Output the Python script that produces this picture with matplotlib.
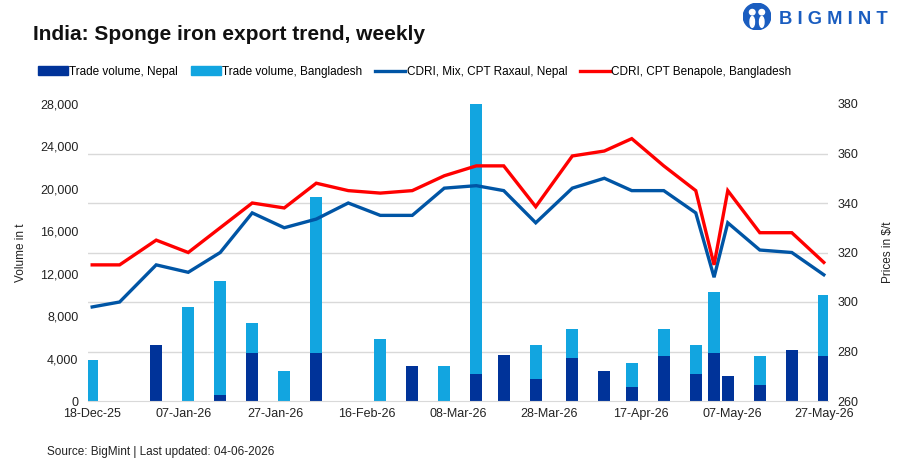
import matplotlib
matplotlib.use("Agg")
import matplotlib.pyplot as plt
import matplotlib.dates as mdates
from matplotlib.patches import Patch, Ellipse
from matplotlib.lines import Line2D
from matplotlib.ticker import StrMethodFormatter
import pandas as pd

# weekly observations
dates = pd.to_datetime([
    "2025-12-18", "2025-12-24", "2026-01-01", "2026-01-08", "2026-01-15",
    "2026-01-22", "2026-01-29", "2026-02-05", "2026-02-12", "2026-02-19",
    "2026-02-26", "2026-03-05", "2026-03-12", "2026-03-18", "2026-03-25",
    "2026-04-02", "2026-04-09", "2026-04-15", "2026-04-22", "2026-04-29",
    "2026-05-03", "2026-05-06", "2026-05-13", "2026-05-20", "2026-05-27",
])
nepal_vol = [0, 0, 5250, 0, 550, 4540, 0, 4540, 0, 0,
             3290, 0, 2540, 4320, 2070, 4040, 2820, 1320, 4230, 2540,
             4540, 2350, 1500, 4790, 4230]
bangladesh_vol = [3850, 0, 0, 8850, 10730, 2790, 2820, 14730, 0, 5830,
                  0, 3290, 25460, 0, 3190, 2730, 0, 2250, 2540, 2720,
                  5700, 0, 2730, 0, 5730]
raxaul_price = [298, 300, 315, 312, 320, 336, 330, 333.5, 340, 335,
                335, 346, 347, 345, 332, 346, 350, 345, 345, 336,
                310, 332, 321, 320, 311]
benapole_price = [315, 315, 325, 320, 330, 340, 338, 348, 345, 344,
                  345, 351, 355, 355, 338.5, 359, 361, 366, 355, 345,
                  315, 345, 328, 328, 316]
tick_dates = pd.to_datetime([
    "2025-12-18", "2026-01-07", "2026-01-27", "2026-02-16", "2026-03-08",
    "2026-03-28", "2026-04-17", "2026-05-07", "2026-05-27",
])

C_NEPAL = "#003399"
C_BANG = "#12A5E0"
C_RAX = "#0055A5"
C_BEN = "#FF0000"
GRID = "#D9D9D9"
C_LOGO = "#1A5DC0"

plt.rcParams["font.family"] = ["Liberation Sans", "DejaVu Sans"]

fig = plt.figure(figsize=(9.14, 4.70), dpi=100)
ax = fig.add_axes([88 / 914, 69 / 470, 740 / 914, 297 / 470])
ax2 = ax.twinx()

bar_w = 2.6
ax.bar(dates, nepal_vol, width=bar_w, color=C_NEPAL, zorder=2)
ax.bar(dates, bangladesh_vol, width=bar_w, bottom=nepal_vol, color=C_BANG, zorder=2)

ax2.plot(dates, raxaul_price, color=C_RAX, lw=2.4, solid_joinstyle="miter")
ax2.plot(dates, benapole_price, color=C_BEN, lw=2.4, solid_joinstyle="miter")

ax.set_ylim(0, 28000)
ax.set_yticks(range(0, 28001, 4000))
ax.yaxis.set_major_formatter(StrMethodFormatter("{x:,.0f}"))
ax2.set_ylim(260, 380)
ax2.set_yticks(range(260, 381, 20))

# gridlines follow the price axis, drawn behind bars
ax.set_yticks([28000 * k / 6 for k in range(7)], minor=True)
ax.grid(which="minor", axis="y", color=GRID, lw=1, zorder=0)
ax.set_axisbelow(True)

ax.set_xlim(dates[0] - pd.Timedelta(hours=22), dates[-1] + pd.Timedelta(hours=22))
ax.set_xticks(tick_dates)
ax.xaxis.set_major_formatter(mdates.DateFormatter("%d-%b-%y"))

for a in (ax, ax2):
    for s in a.spines.values():
        s.set_visible(False)
ax.spines["bottom"].set_visible(True)
ax.spines["bottom"].set_color(GRID)

ax.tick_params(axis="y", which="both", length=0, pad=7, labelsize=9, labelcolor="#222222")
ax.tick_params(axis="x", length=0, pad=5, labelsize=9, labelcolor="#222222")
ax2.tick_params(axis="y", length=0, pad=7, labelsize=9, labelcolor="#222222")

ax.set_ylabel("Volume in t", fontsize=8.5, labelpad=9, color="#222222")
ax2.set_ylabel(r"Prices in \$/t", fontsize=8.5, labelpad=17, color="#222222")

fig.text(33 / 914, 1 - 34 / 470, "India: Sponge iron export trend, weekly",
         fontsize=15, fontweight="bold", va="center", ha="left", color="#111111")

handles = [
    Patch(color=C_NEPAL, label="Trade volume, Nepal"),
    Patch(color=C_BANG, label="Trade volume, Bangladesh"),
    Line2D([], [], color=C_RAX, lw=2.4, label="CDRI, Mix, CPT Raxaul, Nepal"),
    Line2D([], [], color=C_BEN, lw=2.4, label="CDRI, CPT Benapole, Bangladesh"),
]
fig.legend(handles=handles, loc="center left", bbox_to_anchor=(38 / 914, 1 - 72 / 470),
           ncol=4, frameon=False, fontsize=8.5, handlelength=2.5, handleheight=0.8,
           handletextpad=0.15, columnspacing=1.1, borderaxespad=0, borderpad=0)

fig.text(47 / 914, 1 - 452 / 470, "Source: BigMint | Last updated: 04-06-2026",
         fontsize=8.5, va="center", ha="left", color="#222222")

# logo
logo = fig.add_axes([743 / 914, 1 - 30 / 470, 28 / 914, 27 / 470])
logo.set_xlim(0, 1)
logo.set_ylim(0, 1)
logo.axis("off")
logo.add_patch(Ellipse((0.5, 0.5), 0.98, 0.98, color=C_LOGO))
logo.add_patch(Ellipse((0.33, 0.66), 0.2, 0.2, color="white"))
logo.add_patch(Ellipse((0.67, 0.66), 0.2, 0.2, color="white"))
logo.add_patch(Ellipse((0.33, 0.3), 0.16, 0.4, color="white"))
logo.add_patch(Ellipse((0.67, 0.3), 0.16, 0.4, color="white"))
fig.text(779 / 914, 1 - 20 / 470, "B I G M I N T", fontsize=13.2, fontweight="bold",
         color=C_LOGO, va="center", ha="left")

fig.savefig("out.png", dpi=100)
